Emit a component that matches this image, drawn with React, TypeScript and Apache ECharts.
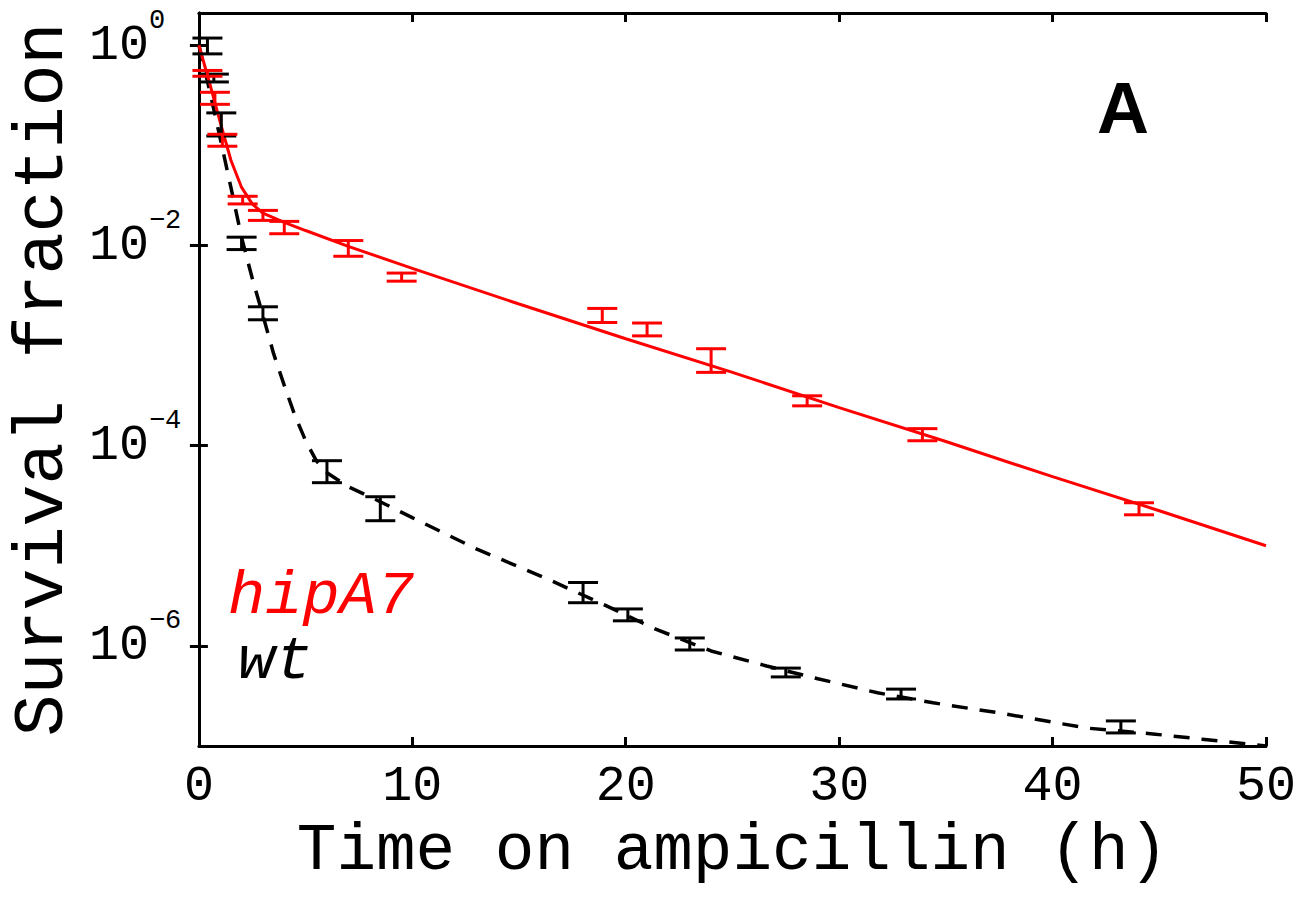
import React, { useEffect, useRef } from "react";
import * as echarts from "echarts";

// ---- data ----
const hipTimes = [0.4, 0.75, 1.1, 2.05, 3.0, 4.0, 7.0, 9.5, 18.9, 21.0, 24.0, 28.5, 33.9, 44.05];
const hipValues = [0.52, 0.295, 0.112, 0.028, 0.02, 0.0151, 0.0093, 0.0048, 0.002, 0.00145, 0.00071, 0.00028, 0.000129, 0.0000234];
const hipLow = [0.49, 0.257, 0.098, 0.026, 0.0178, 0.0131, 0.0078, 0.0044, 0.0017, 0.00125, 0.00054, 0.00025, 0.000112, 0.0000204];
const hipHigh = [0.56, 0.339, 0.129, 0.031, 0.0224, 0.0174, 0.0112, 0.0053, 0.00235, 0.00168, 0.00093, 0.000315, 0.000148, 0.0000269];

const wtTimes = [0.4, 0.7, 1.05, 2.0, 3.0, 6.0, 8.5, 18.0, 20.1, 23.0, 27.5, 32.9, 43.2];
const wtValues = [0.98, 0.47, 0.162, 0.0105, 0.0021, 0.000055, 0.0000234, 0.0000034, 0.00000204, 0.00000105, 5.4e-7, 3.3e-7, 1.55e-7];
const wtLow = [0.82, 0.43, 0.124, 0.0091, 0.00181, 0.0000427, 0.0000178, 0.0000027, 0.00000178, 0.00000091, 4.9e-7, 2.95e-7, 1.35e-7];
const wtHigh = [1.18, 0.515, 0.211, 0.0121, 0.00244, 0.0000708, 0.0000309, 0.0000043, 0.00000234, 0.0000012, 6.0e-7, 3.7e-7, 1.78e-7];

const hipFitTimes = [0, 0.5, 1, 1.5, 2, 2.5, 3, 4, 5, 7, 10, 15, 20, 25, 30, 35, 40, 45, 50];
const hipFitValues = [1, 0.42, 0.17, 0.071, 0.038, 0.026, 0.021, 0.017, 0.0141, 0.0098, 0.0059, 0.0026, 0.00117, 0.00054, 0.00024, 0.00011, 0.000049, 0.0000224, 0.00001];

const wtFitTimes = [0, 0.5, 1, 1.5, 2, 2.5, 3, 3.5, 4, 4.5, 5, 5.5, 6, 7, 8.4, 10, 13, 16.3, 19.3, 21.3, 24, 26.6, 29, 31.8, 34.4, 37.5, 41.6, 44.7, 47, 50];
const wtFitValues = [1, 0.355, 0.117, 0.038, 0.012, 0.0047, 0.002, 0.00083, 0.0004, 0.0002, 0.000112, 0.0000708, 0.0000537, 0.0000389, 0.0000282, 0.0000191, 0.0000093, 0.0000047, 0.0000024, 0.0000015, 8.9e-7, 6.3e-7, 4.7e-7, 3.4e-7, 2.7e-7, 2.14e-7, 1.51e-7, 1.32e-7, 1.17e-7, 1.0e-7];

const xTicks = [0, 10, 20, 30, 40, 50];
const yTickValues = [1, 1e-2, 1e-4, 1e-6];

const xName = "Time on ampicillin (h)";
const yName = "Survival fraction";
const hipLabel = "hipA7";
const wtLabel = "wt";
const panelLabel = "A";

const RED = "#ff0000";
const BLACK = "#000000";
const MONO = '"Liberation Mono", "Courier New", monospace';

function errorSeries(times: number[], lo: number[], hi: number[], color: string) {
  return {
    type: "custom",
    xAxisIndex: 0,
    yAxisIndex: 0,
    data: times.map((t, i) => [t, lo[i], hi[i]]),
    encode: { x: 0, y: [1, 2] },
    renderItem: (params: any, api: any) => {
      const x = api.value(0);
      const pLo = api.coord([x, api.value(1)]);
      const pHi = api.coord([x, api.value(2)]);
      const half = 15;
      const style = { stroke: color, lineWidth: 3, fill: "none" };
      return {
        type: "group",
        children: [
          { type: "line", shape: { x1: pLo[0], y1: pLo[1], x2: pHi[0], y2: pHi[1] }, style },
          { type: "line", shape: { x1: pLo[0] - half, y1: pLo[1], x2: pLo[0] + half, y2: pLo[1] }, style },
          { type: "line", shape: { x1: pHi[0] - half, y1: pHi[1], x2: pHi[0] + half, y2: pHi[1] }, style },
        ],
      };
    },
    z: 5,
  };
}

export default function App() {
  const ref = useRef<HTMLDivElement>(null);
  useEffect(() => {
    if (!ref.current) return;
    const chart = echarts.init(ref.current, null, { renderer: "svg" });
    const tickStyle = { show: true, inside: true, length: 9, lineStyle: { color: BLACK, width: 3 } };
    const lineStyle = { show: true, lineStyle: { color: BLACK, width: 3 } };
    const expFmt = (v: number) => {
      const e = Math.round(Math.log10(v));
      return `{b|10}{s|${e === 0 ? "0" : "\u2212" + -e}}`;
    };
    chart.setOption({
      animation: false,
      backgroundColor: "#ffffff",
      grid: { left: 198, right: 36, top: 13, bottom: 163 },
      xAxis: [
        {
          type: "value",
          min: xTicks[0],
          max: xTicks[xTicks.length - 1],
          interval: 10,
          position: "bottom",
          axisLine: lineStyle,
          axisTick: tickStyle,
          splitLine: { show: false },
          axisLabel: { fontSize: 50, fontFamily: MONO, color: BLACK, margin: 15 },
          name: xName,
          nameLocation: "middle",
          nameGap: 72,
          nameTextStyle: { fontSize: 66, fontFamily: MONO, color: BLACK },
        },
        {
          type: "value",
          min: xTicks[0],
          max: xTicks[xTicks.length - 1],
          interval: 10,
          position: "top",
          axisLine: lineStyle,
          axisTick: tickStyle,
          splitLine: { show: false },
          axisLabel: { show: false },
        },
      ],
      yAxis: [
        {
          type: "log",
          logBase: 10,
          min: 1e-7,
          max: 2.1,
          position: "left",
          axisLine: lineStyle,
          axisTick: { ...tickStyle, customValues: yTickValues },
          splitLine: { show: false },
          minorTick: { show: false },
          axisLabel: {
            customValues: yTickValues,
            formatter: expFmt,
            align: "left",
            margin: 110,
            rich: {
              b: { fontSize: 50, fontFamily: MONO, color: BLACK, lineHeight: 76 },
              s: { fontSize: 27, fontFamily: MONO, color: BLACK, lineHeight: 30, verticalAlign: "top" },
            },
          },
          name: yName,
          nameLocation: "middle",
          nameGap: 103,
          nameTextStyle: { fontSize: 70, fontFamily: MONO, color: BLACK },
        },
        {
          type: "log",
          logBase: 10,
          min: 1e-7,
          max: 2.1,
          position: "right",
          axisLine: lineStyle,
          axisTick: { ...tickStyle, customValues: yTickValues },
          splitLine: { show: false },
          axisLabel: { show: false },
        },
      ],
      series: [
        {
          type: "line",
          data: wtFitTimes.map((t, i) => [t, wtFitValues[i]]),
          showSymbol: false,
          lineStyle: { color: BLACK, width: 3.5, type: [16, 12] },
          z: 3,
        },
        errorSeries(wtTimes, wtLow, wtHigh, BLACK),
        {
          type: "line",
          data: hipFitTimes.map((t, i) => [t, hipFitValues[i]]),
          showSymbol: false,
          lineStyle: { color: RED, width: 3 },
          z: 4,
        },
        errorSeries(hipTimes, hipLow, hipHigh, RED),
        {
          type: "scatter",
          data: hipTimes.map((t, i) => [t, hipValues[i]]),
          symbolSize: 0,
          silent: true,
        },
        {
          type: "scatter",
          data: wtTimes.map((t, i) => [t, wtValues[i]]),
          symbolSize: 0,
          silent: true,
        },
      ],
      graphic: [
        {
          type: "text",
          left: 228,
          top: 565,
          style: { text: hipLabel, font: `italic 62px ${MONO}`, fill: RED },
        },
        {
          type: "text",
          left: 238,
          top: 630,
          style: { text: wtLabel, font: `italic 62px ${MONO}`, fill: BLACK },
        },
        {
          type: "text",
          left: 1097,
          top: 72,
          style: { text: panelLabel, font: 'bold 72px "Liberation Sans", Arial, sans-serif', fill: BLACK },
        },
      ],
    });
    return () => chart.dispose();
  }, []);
  return <div ref={ref} style={{ width: 1302, height: 909, position: "absolute", left: 0, top: 0 }} />;
}
